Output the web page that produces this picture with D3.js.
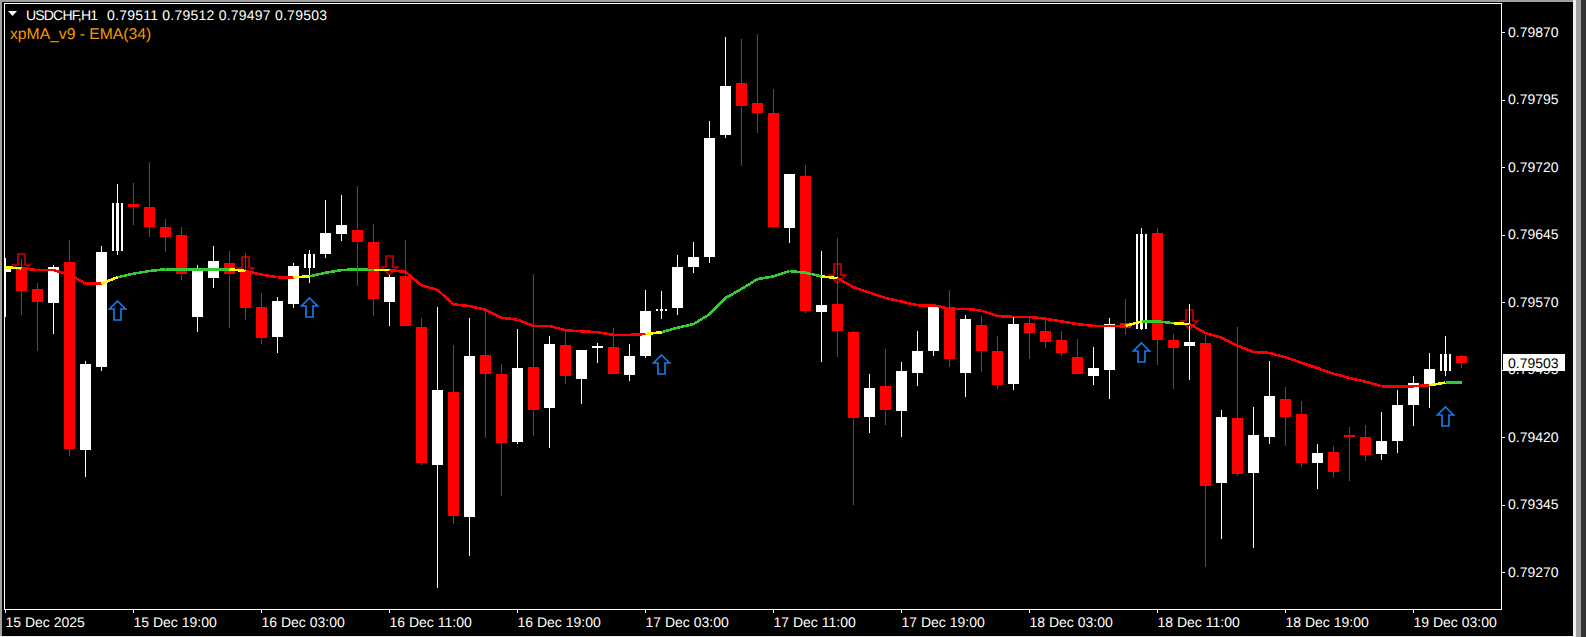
<!DOCTYPE html>
<html>
<head>
<meta charset="utf-8">
<title>USDCHF,H1</title>
<script src="https://cdnjs.cloudflare.com/ajax/libs/d3/7.8.5/d3.min.js"></script>
<style>
    html, body { margin: 0; padding: 0; background: #000; overflow: hidden; }
    svg { display: block; font-family: "Liberation Sans", Arial, sans-serif; }
    text { text-rendering: geometricPrecision; }
</style>
</head>
<body>
<div class="chart"></div>
<script>
const opens = [0.79604,0.79608,0.79585,0.79569,0.79615,0.79406,0.79498,0.79627,0.79679,0.79676,0.79654,0.79645,0.79554,0.79597,0.79614,0.79605,0.79565,0.79532,0.79568,0.79608,0.79624,0.79646,0.79651,0.79637,0.79571,0.79599,0.79543,0.79389,0.79471,0.79332,0.79512,0.79491,0.79415,0.79498,0.79453,0.79523,0.79485,0.79519,0.79521,0.79489,0.79511,0.79561,0.79564,0.79609,0.79621,0.79756,0.79814,0.79792,0.79781,0.79653,0.79711,0.79559,0.79568,0.79537,0.79443,0.79477,0.79449,0.79492,0.79516,0.79565,0.79492,0.79545,0.79516,0.79479,0.79547,0.79538,0.79528,0.79509,0.79488,0.79495,0.79547,0.79541,0.79647,0.79528,0.79522,0.79525,0.79369,0.79442,0.79381,0.79421,0.79463,0.79446,0.79392,0.79404,0.79423,0.79421,0.79402,0.79416,0.79456,0.79478,0.79494,0.79511]
const highs = [0.79619,0.79618,0.79592,0.79612,0.79639,0.79505,0.79633,0.79702,0.79703,0.79726,0.79663,0.79654,0.79612,0.79633,0.79627,0.79625,0.79581,0.79576,0.79614,0.79628,0.79684,0.79689,0.79699,0.79657,0.79601,0.79639,0.79553,0.79565,0.79523,0.79553,0.79561,0.79502,0.79541,0.79602,0.79533,0.79541,0.79517,0.79525,0.79542,0.79524,0.79584,0.79583,0.79623,0.79637,0.79772,0.79865,0.79863,0.79868,0.79807,0.79713,0.79723,0.79627,0.79642,0.79538,0.79491,0.79518,0.79504,0.79538,0.79565,0.79584,0.79556,0.79555,0.79533,0.79554,0.79554,0.79552,0.79538,0.79529,0.79521,0.79553,0.79574,0.79653,0.79653,0.79535,0.79568,0.79534,0.79451,0.79543,0.79454,0.79505,0.79476,0.79461,0.79413,0.79411,0.79432,0.79434,0.79448,0.79473,0.79488,0.79514,0.79533,0.79512]
const lows = [0.79554,0.79556,0.79516,0.79535,0.79399,0.79376,0.79494,0.79623,0.79656,0.79643,0.79626,0.79595,0.79537,0.79586,0.79542,0.79551,0.79524,0.79514,0.79564,0.79592,0.79619,0.79638,0.79588,0.79555,0.79544,0.79544,0.79389,0.79253,0.79324,0.79288,0.79419,0.79355,0.79413,0.79422,0.79408,0.79479,0.79457,0.79503,0.79491,0.79483,0.79508,0.79552,0.79556,0.79603,0.79614,0.79753,0.79722,0.79758,0.79653,0.79636,0.79558,0.79504,0.79509,0.79345,0.79425,0.79434,0.79421,0.79477,0.79511,0.79498,0.79465,0.79493,0.79474,0.79473,0.79507,0.79519,0.79511,0.79491,0.79478,0.79463,0.79534,0.79539,0.79501,0.79474,0.79484,0.79276,0.79307,0.79377,0.79297,0.79413,0.79411,0.79387,0.79363,0.79375,0.79372,0.79394,0.79395,0.79403,0.79433,0.79453,0.79488,0.79497]
const closes = [0.79609,0.79583,0.79571,0.79609,0.79407,0.79502,0.79626,0.79681,0.79676,0.79654,0.79643,0.79602,0.79606,0.79616,0.79602,0.79564,0.79531,0.79572,0.79611,0.79624,0.79647,0.79656,0.79637,0.79574,0.79598,0.79544,0.79392,0.79473,0.79333,0.79511,0.79491,0.79414,0.79497,0.79451,0.79524,0.79488,0.79517,0.79522,0.79491,0.79511,0.79561,0.79563,0.79609,0.79621,0.79753,0.79811,0.79788,0.79781,0.79654,0.79713,0.79561,0.79567,0.79538,0.79442,0.79475,0.79451,0.79494,0.79516,0.79565,0.79507,0.79552,0.79516,0.79478,0.79546,0.79536,0.79526,0.79514,0.79491,0.79497,0.79546,0.79542,0.79646,0.79528,0.79519,0.79526,0.79366,0.79443,0.79379,0.79423,0.79466,0.79443,0.79392,0.79403,0.79382,0.79421,0.79401,0.79416,0.79456,0.79481,0.79496,0.79513,0.79503]
// these candles come out with the body split up by black gaps
const stripedBars = [7, 19, 41, 71, 90]

const ema = [0.79609,0.79608,0.79606,0.79606,0.79601,0.79591,0.79591,0.79598,0.79602,0.79605,0.79607,0.79607,0.79607,0.79607,0.79607,0.79605,0.79601,0.79598,0.79598,0.79599,0.79603,0.79606,0.79607,0.79606,0.79606,0.79604,0.79589,0.79584,0.79568,0.79566,0.79562,0.79553,0.79551,0.79544,0.79544,0.79539,0.79538,0.79537,0.79534,0.79534,0.79535,0.79537,0.79542,0.79546,0.79557,0.79575,0.79585,0.79596,0.79599,0.79605,0.79603,0.79599,0.79597,0.79587,0.79581,0.79575,0.79571,0.79567,0.79567,0.79563,0.79563,0.79561,0.79555,0.79554,0.79554,0.79552,0.79549,0.79546,0.79544,0.79544,0.79544,0.79549,0.79549,0.79547,0.79546,0.79536,0.79531,0.79522,0.79515,0.79514,0.79509,0.79503,0.79497,0.79491,0.79486,0.79482,0.79477,0.79477,0.79477,0.79478,0.79481,0.79481]
// one letter per line segment of the ema: r falling, g rising, y turning
const emaTrend = 'y' + 'rrrrr' + 'y' + 'ggggggg' + 'y' + 'rrr' + 'y' + 'gggg' + 'y' + 'rrrrrrrrrrrrrrrr' +
    'y' + 'gggggggggg' + 'y' + 'rrrrrrrrrrrrrrrrrr' + 'y' + 'gg' + 'y' + 'rrrrrrrrrrrrrrr' + 'y' + 'g'

const upArrowBars = [7, 19, 41, 71, 90]
const upArrowPrices = [0.79572, 0.79575, 0.79512, 0.79525, 0.79454]
const downArrowBars = [1, 15, 24, 52, 74]
const downArrowPrices = [0.79603, 0.79599, 0.79601, 0.79592, 0.79541]

const priceTicks = [0.7987, 0.79795, 0.7972, 0.79645, 0.7957, 0.79495, 0.7942, 0.79345, 0.7927]
const timeTickBars = [0, 8, 16, 24, 32, 40, 48, 56, 64, 72, 80, 88]
const timeTickLabels = ['15 Dec 2025', '15 Dec 19:00', '16 Dec 03:00', '16 Dec 11:00', '16 Dec 19:00',
    '17 Dec 03:00', '17 Dec 11:00', '17 Dec 19:00', '18 Dec 03:00', '18 Dec 11:00', '18 Dec 19:00', '19 Dec 03:00']

const lastPrice = 0.79503
const symbolText = 'USDCHF,H1'
const ohlcText = '0.79511 0.79512 0.79497 0.79503'
const indicatorText = 'xpMA_v9 - EMA(34)'

const trendColors = { r: '#ff0000', g: '#32cd32', y: '#ffff00' }

const svg = d3.select('.chart')
    .append('svg')
        .attr('width', 1586)
        .attr('height', 637)
        .attr('viewBox', '0 0 1586 637')

const x = d3.scaleLinear().domain([0, 1]).range([5, 21])
const y = d3.scaleLinear().domain([0.79645, 0.7927]).range([235, 572.5])
const py = (p) => Math.round(y(p))

//window edges
svg.append('rect').attr('width', 1586).attr('height', 637).attr('fill', '#000')
const edges = [[0, 0, 1574, 2, '#a0a0a0'], [0, 0, 2, 637, '#a0a0a0'], [0, 636, 1574, 1, '#f0f0f0'],
    [1573, 0, 3, 637, '#f0f0f0'], [1576, 0, 5, 637, '#a0a0a0'], [1581, 0, 5, 637, '#333333']]
svg.append('g').selectAll('rect')
    .data(edges)
    .enter()
    .append('rect')
        .attr('x', (d) => d[0])
        .attr('y', (d) => d[1])
        .attr('width', (d) => d[2])
        .attr('height', (d) => d[3])
        .attr('fill', (d) => d[4])

svg.append('clipPath').attr('id', 'plot')
    .append('rect').attr('x', 5).attr('y', 4).attr('width', 1496).attr('height', 605)

const plot = svg.append('g').attr('clip-path', 'url(#plot)').attr('shape-rendering', 'crispEdges')

const arrowShape = (cx, tip, dir) => {
    const p = d3.path()
    p.moveTo(cx, tip)
    p.lineTo(cx + 8, tip + 8 * dir)
    p.lineTo(cx + 3.5, tip + 8 * dir)
    p.lineTo(cx + 3.5, tip + 19 * dir)
    p.lineTo(cx - 3.5, tip + 19 * dir)
    p.lineTo(cx - 3.5, tip + 8 * dir)
    p.lineTo(cx - 8, tip + 8 * dir)
    p.closePath()
    return p.toString()
}

//red arrows go under the candles
plot.append('g')
        .attr('fill', 'none')
        .attr('stroke-width', 1.7)
        .attr('shape-rendering', 'auto')
    .selectAll('path')
    .data(downArrowBars)
    .enter()
    .append('path')
        .attr('stroke', '#c80000')
        .attr('d', (d, i) => arrowShape(x(d) + 0.5, py(downArrowPrices[i]), -1))

const bars = d3.range(opens.length)

//wicks then bodies
plot.append('g').selectAll('rect')
    .data(bars)
    .enter()
    .append('rect')
        .attr('x', (d) => x(d))
        .attr('y', (d) => py(highs[d]))
        .attr('width', 1)
        .attr('height', (d) => py(lows[d]) - py(highs[d]))
        .attr('fill', (d) => closes[d] >= opens[d] ? '#fff' : '#f00')

plot.append('g').selectAll('rect')
    .data(bars)
    .enter()
    .append('rect')
        .attr('x', (d) => x(d) - 5)
        .attr('y', (d) => py(Math.max(opens[d], closes[d])))
        .attr('width', 11)
        .attr('height', (d) => Math.max(1, py(Math.min(opens[d], closes[d])) - py(Math.max(opens[d], closes[d]))))
        .attr('fill', (d) => closes[d] >= opens[d] ? '#fff' : '#f00')

const gaps = stripedBars.flatMap((d) => [[d, -3], [d, 2]])
plot.append('g').selectAll('rect')
    .data(gaps)
    .enter()
    .append('rect')
        .attr('x', (d) => x(d[0]) + d[1])
        .attr('y', (d) => py(closes[d[0]]))
        .attr('width', 2)
        .attr('height', (d) => py(opens[d[0]]) - py(closes[d[0]]))
        .attr('fill', '#000')

//blue arrows sit in the empty space below the candles
plot.append('g')
        .attr('fill', 'none')
        .attr('stroke-width', 1.7)
        .attr('shape-rendering', 'auto')
    .selectAll('path')
    .data(upArrowBars)
    .enter()
    .append('path')
        .attr('stroke', '#1a78e0')
        .attr('d', (d, i) => arrowShape(x(d) + 0.5, py(upArrowPrices[i]), 1))

//ema, one colour per segment
const line = d3.line().x((d) => x(d) + 0.5).y((d) => y(ema[d]))
plot.append('g')
    .attr('fill', 'none')
    .attr('stroke-width', 2.6)
    .selectAll('path')
    .data(d3.range(ema.length - 1))
    .enter()
    .append('path')
        .attr('d', (d) => line([d, d + 1]))
        .attr('stroke', (d) => trendColors[emaTrend[d]])

//frame
svg.append('rect')
    .attr('x', 4.5)
    .attr('y', 3.5)
    .attr('width', 1497)
    .attr('height', 606)
    .attr('fill', 'none')
    .attr('stroke', '#fff')
    .attr('shape-rendering', 'crispEdges')

//axes
const yAxis = svg.append('g')
    .attr('transform', 'translate(1502, 0)')
    .call(d3.axisRight(y)
        .tickValues(priceTicks)
        .tickSize(3)
        .tickPadding(3)
        .offset(0)
        .tickFormat(d3.format('.5f')))

const xAxis = svg.append('g')
    .attr('transform', 'translate(0, 610)')
    .call(d3.axisBottom(x)
        .tickValues(timeTickBars)
        .tickSize(3)
        .tickPadding(3)
        .tickFormat((d, i) => timeTickLabels[i]))

for (const axis of [yAxis, xAxis]) {
    axis.select('path').style('stroke', 'none')
    axis.selectAll('line').style('stroke', '#fff').attr('shape-rendering', 'crispEdges')
    axis.selectAll('text').style('fill', '#fff').style('font-size', '14px').style('font-family', '"Liberation Sans"')
}
xAxis.selectAll('text').attr('text-anchor', 'start').attr('x', 0).attr('y', 16.5).attr('dy', 0)

//current price box
const lastBox = svg.append('g').attr('transform', `translate(1503, ${y(lastPrice)})`)
lastBox.append('rect')
    .attr('x', 0)
    .attr('y', -9)
    .attr('width', 62)
    .attr('height', 17)
    .attr('fill', '#fff')
    .attr('shape-rendering', 'crispEdges')
lastBox.append('text')
    .attr('x', 5)
    .attr('y', 5)
    .attr('fill', '#000')
    .style('font-size', '14px')
    .text(d3.format('.5f')(lastPrice))

//top left labels
svg.append('path')
    .attr('d', d3.line()([[8, 11], [17, 11], [12.5, 16]]) + 'Z')
    .attr('fill', '#fff')

svg.append('text')
    .attr('x', 26)
    .attr('y', 20)
    .attr('fill', '#fff')
    .attr('textLength', 72)
    .style('font-size', '14px')
    .text(symbolText)

svg.append('text')
    .attr('x', 107)
    .attr('y', 20)
    .attr('fill', '#fff')
    .attr('textLength', 220)
    .style('font-size', '14px')
    .text(ohlcText)

svg.append('text')
    .attr('x', 10)
    .attr('y', 39)
    .attr('fill', '#f59a00')
    .style('font-size', '15.7px')
    .text(indicatorText)
</script>
</body>
</html>
